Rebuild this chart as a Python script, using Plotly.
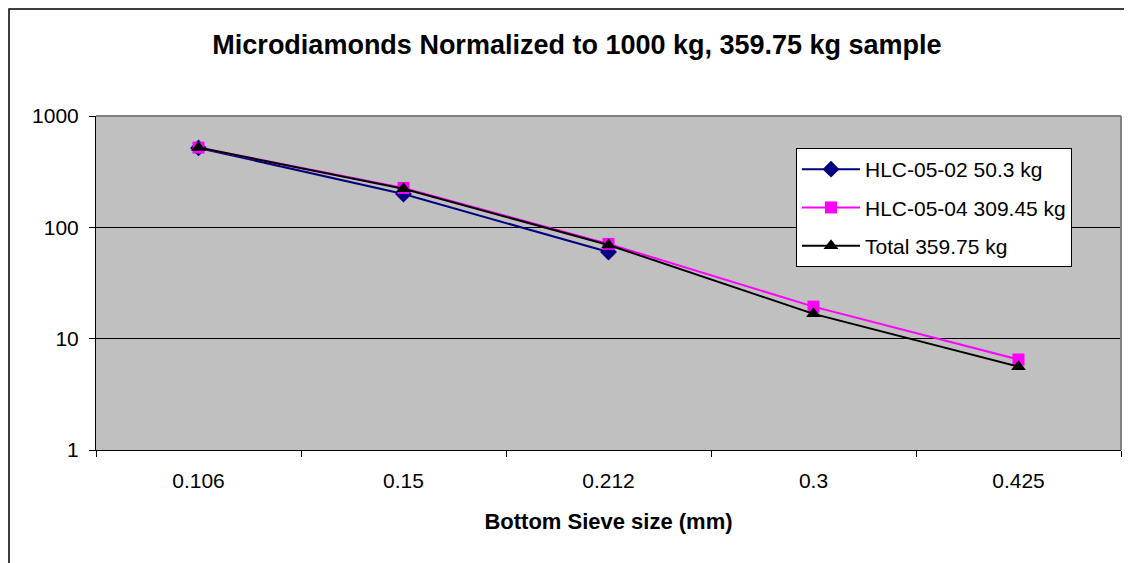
import plotly.graph_objects as go

sieve_sizes = ["0.106", "0.15", "0.212", "0.3", "0.425"]
hlc_05_02 = [517, 199, 60, None, None]
hlc_05_04 = [520, 226, 71, 19.4, 6.5]
total = [521, 222, 69.5, 16.7, 5.6]

series_names = ["HLC-05-02 50.3 kg", "HLC-05-04 309.45 kg", "Total 359.75 kg"]

FONT = "Liberation Sans, Arial, sans-serif"

# page body has an 8px margin; target coordinates are in screenshot pixels
OFF = 8
W, H = 1132, 563
L = 96 - OFF
T = 116 - OFF
pw, ph = 1025, 334
R = W - L - pw
B = H - T - ph


def px(x):
    return (x - OFF - L) / pw


def py(y):
    return (T + ph - (y - OFF)) / ph


fig = go.Figure()
fig.add_trace(go.Scatter(
    x=sieve_sizes, y=hlc_05_02, name=series_names[0], mode="lines+markers",
    line=dict(color="#000080", width=2),
    marker=dict(symbol="diamond", size=13, color="#000080"),
    legendgroup="a",
))
fig.add_trace(go.Scatter(
    x=sieve_sizes, y=hlc_05_04, name=series_names[1], mode="lines+markers",
    line=dict(color="#FF00FF", width=2),
    marker=dict(symbol="square", size=12, color="#FF00FF"),
    legendgroup="b",
))
fig.add_trace(go.Scatter(
    x=sieve_sizes, y=total, name=series_names[2], mode="lines+markers",
    line=dict(color="#000000", width=2),
    marker=dict(symbol="triangle-up", size=13, color="#000000"),
    legendgroup="c",
))

fig.update_layout(
    width=W, height=H,
    margin=dict(l=L, r=R, t=T, b=B, autoexpand=False),
    paper_bgcolor="white",
    plot_bgcolor="#C0C0C0",
    font=dict(family=FONT, size=21, color="black"),
    title=dict(
        text="<b>Microdiamonds Normalized to 1000 kg, 359.75 kg sample</b>",
        x=(577 - OFF) / W, xanchor="center", xref="container",
        y=1 - (45 - OFF) / H, yanchor="middle", yref="container",
        font=dict(family=FONT, size=27, color="black"),
    ),
    showlegend=True,
    legend=dict(
        x=px(796), y=py(148), xanchor="left", yanchor="top",
        bgcolor="white", bordercolor="black", borderwidth=1,
        font=dict(family=FONT, size=21, color="black"),
        tracegroupgap=8,
        itemwidth=58,
    ),
    xaxis=dict(
        type="category",
        range=[-0.5, len(sieve_sizes) - 0.5],
        tickson="boundaries",
        ticks="outside", ticklen=6, tickcolor="black",
        ticklabelstandoff=12,
        showline=True, linecolor="black", linewidth=1,
        showgrid=False,
        tickfont=dict(family=FONT, size=21, color="black"),
        title=dict(text="<b>Bottom Sieve size (mm)</b>",
                   font=dict(family=FONT, size=22, color="black"),
                   standoff=22),
    ),
    yaxis=dict(
        type="log",
        range=[0, 3],
        tickvals=[1, 10, 100, 1000],
        ticktext=["1", "10", "100", "1000"],
        ticks="outside", ticklen=6, tickcolor="black",
        ticklabelstandoff=6,
        showline=True, linecolor="black", linewidth=1,
        showgrid=True, gridcolor="black", gridwidth=1,
        zeroline=False,
        tickfont=dict(family=FONT, size=21, color="black"),
    ),
)

# plot-area top and right edges (grey)
fig.add_shape(type="line", xref="paper", yref="paper", x0=0, x1=1, y0=1, y1=1,
              line=dict(color="#808080", width=2), layer="above")
fig.add_shape(type="line", xref="paper", yref="paper", x0=1, x1=1, y0=0, y1=1,
              line=dict(color="#808080", width=2), layer="above")
# chart-area border (clipped at right and bottom)
fig.add_shape(type="rect", xref="paper", yref="paper",
              x0=px(9), x1=px(1160), y0=py(9), y1=py(600),
              line=dict(color="black", width=1.5), layer="below")

fig.write_html("out.html")
